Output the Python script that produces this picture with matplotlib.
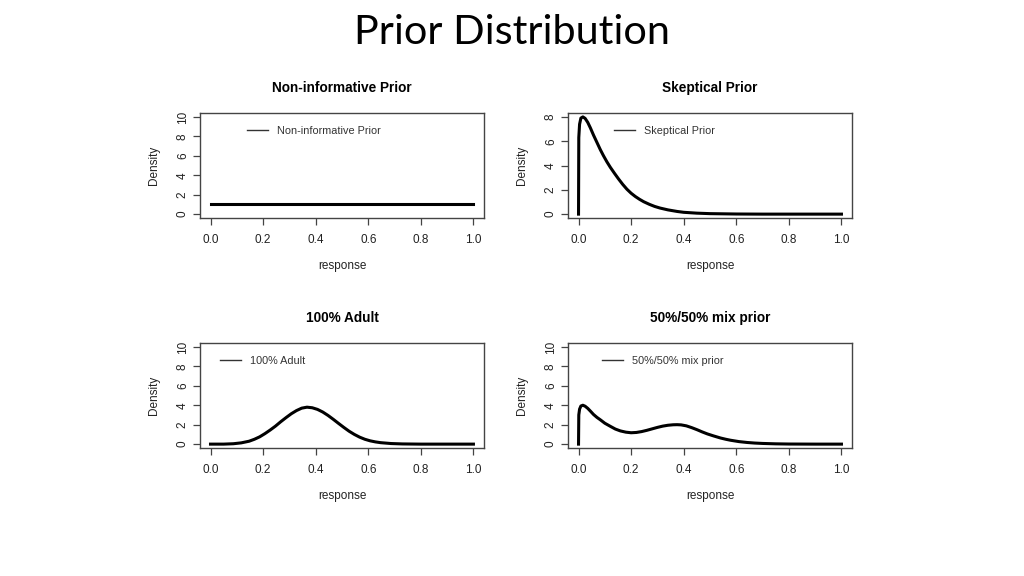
import numpy as np
import matplotlib
matplotlib.use("Agg")
import matplotlib.pyplot as plt
from matplotlib.lines import Line2D

# values
flat_x = [0.0, 1.0]
flat_y = [1.0, 1.0]

skep_x = [0.0, 0.001, 0.004, 0.009, 0.0165, 0.025, 0.035, 0.045, 0.057, 0.07, 0.083,
          0.095, 0.108, 0.121, 0.137, 0.152, 0.168, 0.184, 0.2, 0.216, 0.232, 0.248,
          0.27, 0.29, 0.31, 0.34, 0.375, 0.4, 0.45, 0.5, 0.6, 0.7, 1.0]
skep_y = [0.0, 6.3, 7.4, 7.9, 8.0, 7.88, 7.55, 7.1, 6.5, 5.9, 5.3,
          4.8, 4.3, 3.85, 3.35, 2.9, 2.45, 2.05, 1.72, 1.45, 1.22, 1.02,
          0.8, 0.63, 0.5, 0.35, 0.22, 0.15, 0.08, 0.04, 0.01, 0.0, 0.0]

adult_x = [0.0, 0.05, 0.087, 0.117, 0.147, 0.167, 0.187, 0.207, 0.227, 0.247,
           0.267, 0.287, 0.307, 0.327, 0.347, 0.367, 0.387, 0.407, 0.427, 0.447,
           0.467, 0.487, 0.507, 0.527, 0.547, 0.567, 0.587, 0.607, 0.627, 0.647,
           0.687, 0.73, 0.8, 1.0]
adult_y = [0.0, 0.0, 0.04, 0.13, 0.3, 0.5, 0.75, 1.08, 1.45, 1.85,
           2.3, 2.72, 3.12, 3.45, 3.7, 3.8, 3.74, 3.57, 3.3, 2.95,
           2.55, 2.13, 1.72, 1.33, 1.0, 0.72, 0.5, 0.34, 0.23, 0.15,
           0.06, 0.02, 0.0, 0.0]

mix_x = [0.0, 0.001, 0.004, 0.009, 0.0165, 0.025, 0.035, 0.045, 0.057, 0.07, 0.083,
         0.1, 0.121, 0.14, 0.159, 0.18, 0.2, 0.22, 0.24, 0.26, 0.28,
         0.3, 0.32, 0.34, 0.36, 0.375, 0.39, 0.41, 0.43, 0.451, 0.47,
         0.49, 0.514, 0.54, 0.56, 0.578, 0.61, 0.641, 0.67, 0.7, 0.75,
         0.8, 0.9, 1.0]
mix_y = [0.0, 3.0, 3.6, 3.92, 4.0, 3.9, 3.68, 3.4, 3.05, 2.75, 2.5,
         2.15, 1.83, 1.55, 1.36, 1.23, 1.17, 1.2, 1.29, 1.42, 1.57,
         1.72, 1.85, 1.94, 1.99, 2.0, 1.98, 1.88, 1.7, 1.48, 1.26,
         1.05, 0.84, 0.63, 0.5, 0.4, 0.26, 0.17, 0.11, 0.07, 0.03,
         0.01, 0.0, 0.0]

titles = ["Non-informative Prior", "Skeptical Prior", "100% Adult", "50%/50% mix prior"]
xs = [flat_x, skep_x, adult_x, mix_x]
ys = [flat_y, skep_y, adult_y, mix_y]
ytop = [10, 8, 10, 10]
xticks = [0.0, 0.2, 0.4, 0.6, 0.8, 1.0]
legend_x = [0.165, 0.162, 0.07, 0.12]

# axes boxes in figure fractions: left, bottom, width, height
boxes = [[0.1953, 0.6215, 0.2773, 0.1823],
         [0.5547, 0.6215, 0.2773, 0.1823],
         [0.1953, 0.2222, 0.2773, 0.1823],
         [0.5547, 0.2222, 0.2773, 0.1823]]

plt.rcParams['font.family'] = ['Liberation Sans', 'DejaVu Sans']
fig = plt.figure(figsize=(10.24, 5.76), dpi=100)
fig.text(0.5, 0.9236, "Prior Distribution", ha='center', va='baseline',
         fontsize=29.8, family='Lato', color='black')

edge = '#444444'
for i in range(4):
    ax = fig.add_axes(boxes[i])
    ax.plot(xs[i], ys[i], color='black', lw=2.2, solid_joinstyle='round')
    top = ytop[i]
    ax.set_xlim(-0.04, 1.04)
    ax.set_ylim(-0.04 * top, 1.04 * top)
    ax.set_xticks(xticks)
    ax.set_xticklabels([f"{t:.1f}" for t in xticks])
    ax.set_yticks(np.arange(0, top + 1, 2))
    for lab in ax.get_yticklabels():
        lab.set_rotation(90)
        lab.set_va('center')
    ax.tick_params(direction='out', length=5, width=0.9, color=edge,
                   labelsize=8.5, labelcolor='#222222')
    ax.tick_params(axis='x', pad=6.6)
    ax.tick_params(axis='y', pad=3)
    for s in ax.spines.values():
        s.set_color(edge)
        s.set_linewidth(1.0)
    ax.set_xlabel("response", fontsize=8.5, labelpad=10, color='#222222')
    ax.set_ylabel("Density", fontsize=8.5, labelpad=12, color='#222222')
    ax.set_title(titles[i], fontsize=9.8, fontweight='bold', pad=15)
    h = Line2D([0], [0], color='#333333', lw=1.0)
    ax.legend([h], [titles[i]], loc='center left', bbox_to_anchor=(legend_x[i], 0.83),
              frameon=False, fontsize=7.8, handlelength=1.95, handletextpad=0.85,
              borderpad=0, borderaxespad=0, labelcolor='#333333')

fig.savefig("out.png", dpi=100, facecolor='white')
